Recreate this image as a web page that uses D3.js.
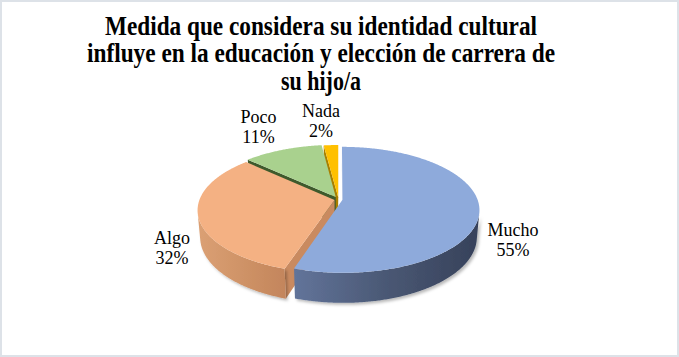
<!DOCTYPE html>
<html>
<head>
<meta charset="utf-8">
<script src="https://cdn.jsdelivr.net/npm/d3@7"></script>
<style>
  html, body { margin: 0; padding: 0; background: #ffffff; }
  svg { display: block; }
</style>
</head>
<body>
<div id="chart"></div>
<script>
// ---------- data ----------
const categories = ["Mucho", "Algo", "Poco", "Nada"];
const values = [55, 32, 11, 2];
const percentLabels = ["55%", "32%", "11%", "2%"];
const titleLines = [
  "Medida que considera su identidad cultural",
  "influye en la educación y elección de carrera de",
  "su hijo/a"
];

// ---------- styles / layout ----------
const W = 679, H = 357;
const topColors  = ["#8eaadb", "#f4b183", "#a9d18e", "#ffc000"];
const faceColors = ["#c9cdd5", "#c98a60", "#3e5a2c", "#a87f00"];
const wallStops  = [["#62749a", "#4a5874", "#36415a"], ["#dba074", "#cf9367", "#c3855c"], ["#7b9a66", "#6d8a59", "#5e7a4b"], ["#c89a00", "#b88c00", "#a87f00"]];
const explode = [0.03, 0.03, 0.045, 0.035];
const labelPos = [[513, 236], [172, 244], [258.5, 123], [321, 117]];
const drawOrder = [3, 2, 1, 0];

const svg = d3.select("#chart").append("svg")
  .attr("width", W).attr("height", H);

svg.append("rect").attr("x", 0).attr("y", 0).attr("width", W).attr("height", H).attr("fill", "#ffffff");
svg.append("rect").attr("x", 1).attr("y", 1).attr("width", W - 2).attr("height", H - 2)
  .attr("fill", "none").attr("stroke", "#dde2e8").attr("stroke-width", 2);

const defs = svg.append("defs");
wallStops.forEach((st, i) => {
  const g = defs.append("linearGradient").attr("id", "wall" + i)
    .attr("x1", 0).attr("y1", 0).attr("x2", 1).attr("y2", 0);
  st.forEach((c, k) => g.append("stop").attr("offset", (k / (st.length - 1))).attr("stop-color", c));
});
const flt = defs.append("filter").attr("id", "shadow").attr("x", "-10%").attr("y", "-10%").attr("width", "130%").attr("height", "140%");
flt.append("feDropShadow").attr("dx", 2).attr("dy", 2).attr("stdDeviation", 1.8)
  .attr("flood-color", "#000").attr("flood-opacity", 0.28);

// ---------- 3D projection ----------
const proj3 = { cx: 338.5, cy: 199.5, F: 756, D: 5.6, phi: 27 * Math.PI / 180, h: 0.2256 };
const sP = Math.sin(proj3.phi), cP = Math.cos(proj3.phi);
function project(x, y, z) {
  const v = z * sP - y * cP;
  const w = z * cP + y * sP;
  const dist = proj3.D - w;
  return [proj3.cx + proj3.F * x / dist, proj3.cy + proj3.F * v / dist];
}

const pie = d3.pie().sort(null).value(d => d).startAngle(0).endAngle(2 * Math.PI);
const arcs = pie(values);
const line = d3.line();
const deg = Math.PI / 180;

function rim(a, y, o) { return project(o.x + Math.sin(a), y, o.z - Math.cos(a)); }
function samples(a0, a1) {
  const n = Math.max(2, Math.ceil((a1 - a0) / (0.5 * deg)));
  return d3.range(n + 1).map(k => a0 + (a1 - a0) * k / n);
}

const pieG = svg.append("g");
drawOrder.forEach(i => {
  const a = arcs[i];
  const mid = (a.startAngle + a.endAngle) / 2;
  const o = { x: explode[i] * Math.sin(mid), z: -explode[i] * Math.cos(mid) };
  const g = pieG.append("g");
  const hh = -proj3.h;
  const Dc = proj3.D * cP;

  // radial faces
  const faces = [];
  const t0 = a.startAngle, t1 = a.endAngle;
  if (o.x * Math.cos(t0) - Math.sin(t0) * (Dc - o.z) > 0) faces.push(t0);
  if (-o.x * Math.cos(t1) + Math.sin(t1) * (Dc - o.z) > 0) faces.push(t1);
  faces.forEach(t => {
    const pts = [project(o.x, 0, o.z), rim(t, 0, o), rim(t, hh, o), project(o.x, hh, o.z)];
    g.append("path").attr("d", line(pts) + "Z").attr("fill", faceColors[i]);
  });

  // outer walls (front-facing parts only)
  const ss = samples(t0, t1);
  const vis = t => -o.x * Math.sin(t) - 1 - Math.cos(t) * (Dc - o.z) > 0;
  let runs = [], cur = [];
  ss.forEach(t => { if (vis(t)) cur.push(t); else { if (cur.length > 1) runs.push(cur); cur = []; } });
  if (cur.length > 1) runs.push(cur);
  runs.forEach(run => {
    const topPts = run.map(t => rim(t, 0, o));
    const botPts = run.slice().reverse().map(t => rim(t, hh, o));
    g.append("path").attr("d", line(topPts.concat(botPts)) + "Z")
      .attr("fill", "url(#wall" + i + ")")
      .attr("filter", (i === 0 || i === 1) ? "url(#shadow)" : null);
  });

  // top face
  const topFace = [project(o.x, 0, o.z)].concat(ss.map(t => rim(t, 0, o)));
  g.append("path").attr("d", line(topFace) + "Z").attr("fill", topColors[i]);
});

// ---------- labels ----------
const lab = svg.append("g").attr("font-family", "'Liberation Serif', 'Times New Roman', serif")
  .attr("font-size", 18).attr("fill", "#000").attr("text-anchor", "middle");
categories.forEach((c, i) => {
  const t = lab.append("text").attr("x", labelPos[i][0]).attr("y", labelPos[i][1]);
  t.append("tspan").attr("x", labelPos[i][0]).text(c);
  t.append("tspan").attr("x", labelPos[i][0]).attr("dy", 20).text(percentLabels[i]);
});

// ---------- title ----------
const titleG = svg.append("g").attr("font-family", "'Liberation Serif', 'Times New Roman', serif")
  .attr("font-weight", "bold").attr("font-size", 27).attr("fill", "#000").attr("text-anchor", "middle");
const titleBase = [34.5, 62, 89.5];
const titleWidths = [432, 468, 80];
titleLines.forEach((s, k) => {
  titleG.append("text").attr("x", 321).attr("y", titleBase[k])
    .attr("textLength", titleWidths[k]).attr("lengthAdjust", "spacingAndGlyphs").text(s);
});
</script>
</body>
</html>
